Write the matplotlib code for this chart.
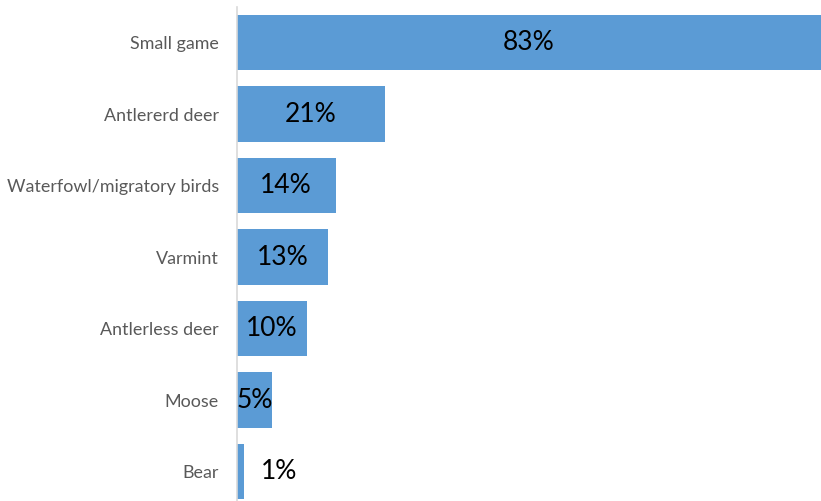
import matplotlib.pyplot as plt

# hunting types, top to bottom, share of hunters (%)
categories = ['Small game', 'Antlererd deer', 'Waterfowl/migratory birds',
              'Varmint', 'Antlerless deer', 'Moose', 'Bear']
shares = [83, 21, 14, 13, 10, 5, 1]
labels = [f'{v}%' for v in shares]

plt.rcParams['font.family'] = ['Lato', 'DejaVu Sans']

fig = plt.figure(figsize=(8.21, 5.01), dpi=100)
ax = fig.add_axes([237 / 821, -6.25 / 501, 584 / 821, 500.5 / 501])

pos = range(len(categories))
bars = ax.barh(pos, shares, height=0.77, color='#5b9bd5')

ax.set_xlim(0, 83)
ax.set_ylim(6.5, -0.5)
ax.set_yticks(list(pos))
ax.set_yticklabels(categories, fontsize=12.9, color='#595959')
ax.tick_params(axis='y', length=0, pad=13)
ax.set_xticks([])

for s in ['top', 'right', 'bottom']:
    ax.spines[s].set_visible(False)
ax.spines['left'].set_color('#d9d9d9')
ax.spines['left'].set_linewidth(1.2)

# value labels: centred in the bar, outside when the bar is too thin
for b, v, txt in zip(bars, shares, labels):
    y = b.get_y() + b.get_height() / 2
    if v >= 3:
        ax.text(v / 2, y, txt, ha='center', va='center', fontsize=19, color='black')
    else:
        ax.text(v + 2.4, y, txt, ha='left', va='center', fontsize=19, color='black')

fig.savefig('out.png', dpi=100)
